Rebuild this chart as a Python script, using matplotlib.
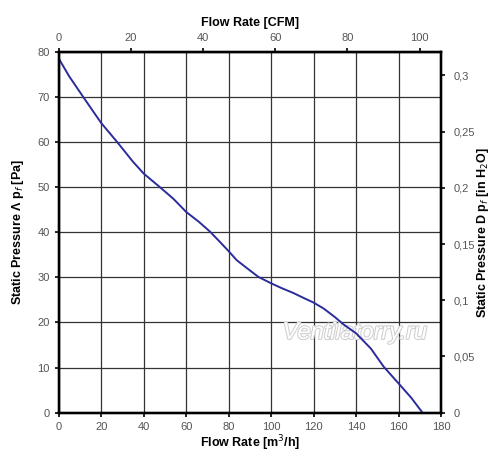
import matplotlib
matplotlib.use('Agg')
import matplotlib.pyplot as plt
import matplotlib.patheffects as pe
from matplotlib.ticker import FuncFormatter

# fan curve
flow = [0, 5, 11.5, 20, 27.5, 35, 40, 47.6, 54, 60, 66, 71.3, 76, 80.2, 83.8, 89, 94, 99.9,
        105, 110.6, 115, 120, 124.7, 130, 134, 140, 147, 153, 160, 166, 171.3]
pressure = [78.5, 74.5, 70, 64.2, 60, 55.6, 53, 50, 47.4, 44.5, 42.3, 40.1, 37.8, 35.7, 33.8,
            31.9, 30.1, 28.7, 27.6, 26.5, 25.5, 24.4, 23.1, 21.2, 19.6, 17.6, 14.2, 10.2, 6.5, 3.3, 0]

PA_PER_INH2O = 249.09
M3H_PER_CFM = 1.699

plt.rcParams['font.family'] = ['Liberation Sans', 'DejaVu Sans']

fig = plt.figure(figsize=(5, 4.67), dpi=100)
ax = fig.add_axes([0.1174, 0.1163, 0.7646, 0.773])

ax.plot(flow, pressure, color='#2b2b9c', lw=1.4, zorder=3)
ax.set_xlim(0, 180)
ax.set_ylim(0, 80)
ax.set_xticks(range(0, 181, 20))
ax.set_yticks(range(0, 81, 10))
ax.grid(True, color='#333333', lw=0.9)
for s in ax.spines.values():
    s.set_linewidth(1.6)
ax.tick_params(labelsize=8, labelcolor='#555555', length=3, width=1.2)
ax.set_xlabel('Flow Rate [m$^3$/h]', fontsize=9, fontweight='bold', labelpad=1)
ax.set_ylabel('Static Pressure Λ p$_f$ [Pa]', fontsize=9, fontweight='bold', labelpad=8)

comma = FuncFormatter(lambda v, p: ('%g' % round(v, 3)).replace('.', ','))

ax_r = ax.twinx()
ax_r.set_ylim(0, 80 / PA_PER_INH2O)
ax_r.set_yticks([0, 0.05, 0.1, 0.15, 0.2, 0.25, 0.3])
ax_r.yaxis.set_major_formatter(comma)
ax_r.tick_params(labelsize=8, labelcolor='#555555', length=3, width=1.2, pad=6)
ax_r.set_ylabel('Static Pressure D p$_f$ [in H$_2$O]', fontsize=9, fontweight='bold', labelpad=0)

ax_t = ax.twiny()
ax_t.set_xlim(0, 180 / M3H_PER_CFM)
ax_t.set_xticks(range(0, 101, 20))
ax_t.tick_params(labelsize=8, labelcolor='#555555', length=3, width=1.2, pad=3)
ax_t.set_xlabel('Flow Rate [CFM]', fontsize=9, fontweight='bold', labelpad=5)
for a in (ax_r, ax_t):
    for s in a.spines.values():
        s.set_linewidth(1.6)

ax.text(139.5, 17.8, 'Ventilatorry.ru', fontsize=17, style='italic', color='white',
        ha='center', va='center', zorder=2,
        path_effects=[pe.withStroke(linewidth=1.5, foreground='#cfcfcf')])

fig.savefig('out.png', dpi=100, facecolor='white')
